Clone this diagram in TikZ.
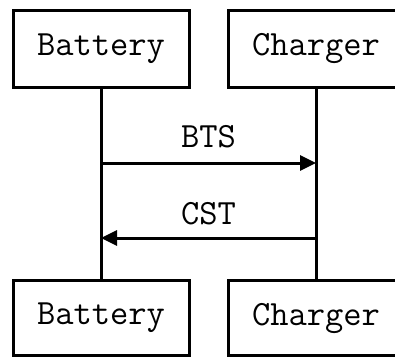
\documentclass[tikz,border=0pt]{standalone}
\usepackage{fontspec}
\usetikzlibrary{arrows.meta}
\tikzset{
  actor/.style={draw, line width=3pt, minimum width=176pt, minimum height=77pt, inner sep=0pt, font=\ttfamily\fontsize{35.5}{40}\selectfont},
  life/.style={line width=3pt},
  msg/.style={line width=3pt, -{Triangle[length=16pt,width=15pt]}},
  lbl/.style={font=\ttfamily\fontsize{35.5}{40}\selectfont, inner sep=0pt}
}
\begin{document}
\begin{tikzpicture}[x=1pt,y=-1pt]
\useasboundingbox (0,0) rectangle (395,356);
\node[actor] (bt) at (101,49) {Battery};
\node[actor] (ct) at (316,49) {Charger};
\node[actor, minimum height=75pt] (bb) at (101,318) {Battery};
\node[actor, minimum height=75pt] (cb) at (316,318) {Charger};
\draw[life] (bt.south) -- (bb.north);
\draw[life] (ct.south) -- (cb.north);
\coordinate (m1) at (0,163);
\coordinate (m2) at (0,238);
\draw[msg] (bt.south |- m1) -- (ct.south |- m1);
\draw[msg] (ct.south |- m2) -- (bt.south |- m2);
\node[lbl] (l1) at (208.5,137) {BTS};
\node[lbl] (l2) at (208.5,214) {CST};
\end{tikzpicture}
\end{document}
